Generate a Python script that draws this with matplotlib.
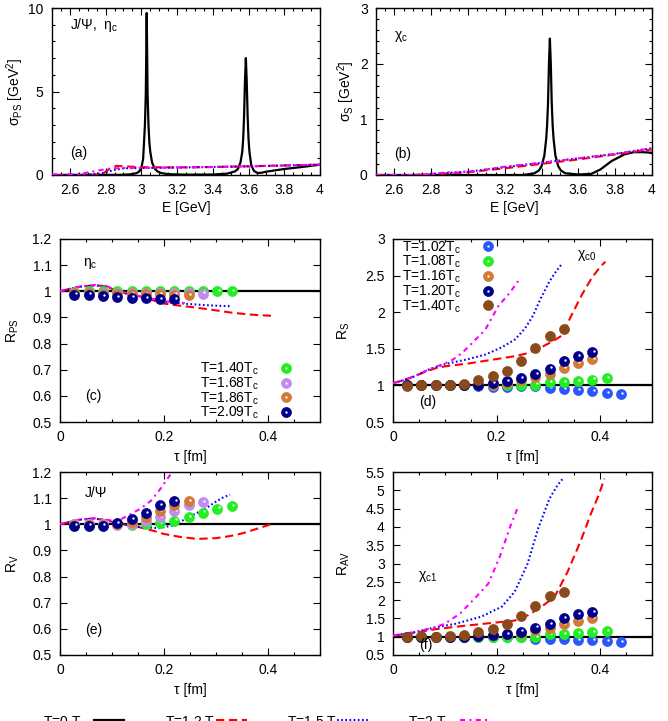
import matplotlib
matplotlib.use("Agg")
import matplotlib.pyplot as plt
from matplotlib.lines import Line2D
from matplotlib.ticker import FixedLocator, MultipleLocator, FuncFormatter
from matplotlib.transforms import offset_copy

plt.rcParams['font.family'] = ['Liberation Sans', 'DejaVu Sans']
plt.rcParams['font.size'] = 10
plt.rcParams['mathtext.fontset'] = 'custom'
plt.rcParams['mathtext.rm'] = 'Liberation Sans'
plt.rcParams['mathtext.it'] = 'Liberation Sans:italic'
plt.rcParams['mathtext.sf'] = 'Liberation Sans'
plt.rcParams['mathtext.bf'] = 'Liberation Sans:bold'

# ---------------- data ----------------
# panel (a): pseudoscalar spectral function
E_a_T0 = [2.50, 2.88, 2.94, 2.97, 2.985, 3.00, 3.010, 3.015, 3.020, 3.025, 3.030, 3.035, 3.040,
          3.045, 3.050, 3.060, 3.075, 3.090, 3.11, 3.15, 3.25, 3.40, 3.48, 3.525, 3.54, 3.555,
          3.565, 3.570, 3.575, 3.580, 3.585, 3.590, 3.595, 3.600, 3.605, 3.615, 3.630, 3.650,
          3.670, 3.700, 3.750, 3.800, 3.900, 4.000]
S_a_T0 = [0.00, 0.01, 0.04, 0.10, 0.18, 0.40, 0.97, 1.94, 2.98, 4.85, 9.70, 4.85, 2.98,
          1.94, 1.40, 0.75, 0.38, 0.22, 0.12, 0.05, 0.02, 0.03, 0.08, 0.22, 0.35, 0.75,
          1.40, 2.15, 3.50, 5.60, 7.00, 5.60, 3.50, 2.15, 1.40, 0.60, 0.25, 0.12,
          0.13, 0.20, 0.28, 0.36, 0.48, 0.62]
E_a_T12 = [2.50, 2.70, 2.78, 2.82, 2.86, 2.90, 3.00, 3.20, 3.40, 3.60, 3.80, 4.00]
S_a_T12 = [0.00, 0.00, 0.05, 0.35, 0.55, 0.52, 0.47, 0.45, 0.48, 0.52, 0.57, 0.62]
E_a_T15 = [2.50, 2.70, 2.78, 2.85, 2.90, 3.00, 3.20, 3.40, 3.60, 3.80, 4.00]
S_a_T15 = [0.00, 0.02, 0.10, 0.30, 0.40, 0.42, 0.45, 0.48, 0.52, 0.57, 0.62]
E_a_T2 = [2.50, 2.55, 2.60, 2.65, 2.70, 2.75, 2.80, 2.85, 2.90, 3.00, 3.20, 3.40, 3.60, 3.80, 4.00]
S_a_T2 = [0.05, 0.02, 0.06, 0.05, 0.15, 0.25, 0.35, 0.40, 0.42, 0.43, 0.45, 0.48, 0.52, 0.57, 0.62]

# panel (b): scalar spectral function
E_b_T0 = [2.50, 3.30, 3.36, 3.385, 3.40, 3.415, 3.425, 3.430, 3.435, 3.440, 3.445, 3.450, 3.455,
          3.460, 3.465, 3.475, 3.49, 3.505, 3.53, 3.60, 3.67, 3.72, 3.78, 3.85, 3.90, 3.95, 4.00]
S_b_T0 = [0.00, 0.00, 0.03, 0.08, 0.16, 0.35, 0.65, 0.90, 1.30, 2.00, 2.45, 2.00, 1.30,
          0.90, 0.65, 0.35, 0.16, 0.08, 0.03, 0.01, 0.02, 0.10, 0.25, 0.37, 0.41, 0.41, 0.40]
E_b_T12 = [2.50, 2.70, 2.80, 3.00, 3.20, 3.40, 3.60, 3.80, 4.00]
S_b_T12 = [0.00, 0.00, 0.01, 0.05, 0.12, 0.20, 0.28, 0.37, 0.46]
E_b_T15 = [2.50, 2.70, 2.80, 3.00, 3.20, 3.40, 3.60, 3.80, 4.00]
S_b_T15 = [0.00, 0.00, 0.02, 0.06, 0.14, 0.22, 0.30, 0.38, 0.48]
E_b_T2 = [2.50, 2.70, 2.80, 2.90, 2.95, 3.00, 3.05, 3.10, 3.20, 3.40, 3.60, 3.80, 4.00]
S_b_T2 = [0.00, 0.00, 0.02, 0.05, 0.04, 0.07, 0.06, 0.10, 0.15, 0.22, 0.30, 0.38, 0.48]

# lattice Euclidean times
TAU = [0.0275, 0.055, 0.0825, 0.110, 0.1375, 0.165, 0.1925, 0.220, 0.2475, 0.275,
       0.3025, 0.330, 0.3575, 0.385, 0.4125, 0.440]

# T=0 reference (ratio = 1)
tau_T0 = [0.0, 0.5]
R_T0 = [1.0, 1.0]

# panel (c): R_PS
tau_c_T12 = [0, 0.02, 0.04, 0.068, 0.09, 0.106, 0.13, 0.156, 0.18, 0.2, 0.23, 0.264, 0.3, 0.327, 0.36, 0.38, 0.41]
R_c_T12 = [1.0, 1.01, 1.018, 1.023, 1.018, 1.004, 0.99, 0.979, 0.965, 0.953, 0.945, 0.937, 0.927, 0.919, 0.912, 0.909, 0.906]
tau_c_T15 = [0, 0.02, 0.04, 0.068, 0.09, 0.106, 0.13, 0.156, 0.18, 0.2, 0.22, 0.25, 0.28, 0.31, 0.33]
R_c_T15 = [1.0, 1.01, 1.018, 1.023, 1.018, 1.005, 0.99, 0.98, 0.968, 0.96, 0.956, 0.951, 0.947, 0.944, 0.943]
tau_c_T2 = [0, 0.02, 0.04, 0.068, 0.09, 0.106, 0.13, 0.156, 0.18, 0.2, 0.22, 0.24]
R_c_T2 = [1.0, 1.01, 1.019, 1.024, 1.019, 1.006, 0.992, 0.98, 0.97, 0.963, 0.958, 0.955]
Rc_140 = [0.999, 1.0, 1.0, 1.0, 1.0, 1.0, 1.0, 1.0, 1.0, 1.0, 1.0, 1.0]
Rc_168 = [0.994, 0.994, 0.993, 0.993, 0.993, 0.992, 0.992, 0.992, 0.992, 0.991]
Rc_186 = [0.992, 0.992, 0.990, 0.990, 0.989, 0.989, 0.988, 0.987, 0.985]
Rc_209 = [0.987, 0.987, 0.982, 0.977, 0.976, 0.975, 0.971, 0.970]

# panel (d): R_S
tau_d_T12 = [0, 0.02, 0.04, 0.06, 0.08, 0.1, 0.146, 0.2, 0.236, 0.26, 0.286, 0.305, 0.326, 0.344, 0.364, 0.383, 0.40, 0.41]
R_d_T12 = [1.03, 1.07, 1.12, 1.18, 1.23, 1.26, 1.30, 1.36, 1.40, 1.44, 1.52, 1.59, 1.68, 1.95, 2.23, 2.46, 2.62, 2.69]
tau_d_T15 = [0, 0.02, 0.04, 0.07, 0.1, 0.146, 0.178, 0.21, 0.236, 0.255, 0.27, 0.286, 0.302, 0.315, 0.325]
R_d_T15 = [1.03, 1.07, 1.12, 1.22, 1.29, 1.36, 1.42, 1.52, 1.63, 1.78, 1.95, 2.2, 2.42, 2.56, 2.65]
tau_d_T2 = [0, 0.02, 0.04, 0.07, 0.1, 0.115, 0.133, 0.153, 0.178, 0.204, 0.226, 0.242]
R_d_T2 = [1.03, 1.07, 1.12, 1.22, 1.3, 1.35, 1.44, 1.58, 1.76, 2.09, 2.27, 2.43]
Rd_102 = [1.0, 1.0, 1.0, 1.0, 1.0, 0.99, 0.98, 0.98, 0.985, 0.99, 0.96, 0.945, 0.94, 0.92, 0.90, 0.885]
Rd_108 = [1.0, 1.0, 1.0, 1.0, 1.0, 1.0, 1.0, 1.0, 1.0, 1.01, 1.04, 1.05, 1.06, 1.08, 1.10]
Rd_116 = [1.0, 1.0, 1.0, 1.0, 1.0, 1.01, 1.01, 1.03, 1.07, 1.12, 1.15, 1.24, 1.30, 1.36]
Rd_120 = [1.0, 1.0, 1.0, 1.0, 1.0, 1.01, 1.03, 1.06, 1.10, 1.15, 1.23, 1.33, 1.40, 1.46]
Rd_140 = [0.995, 1.0, 1.01, 1.01, 1.02, 1.07, 1.125, 1.2, 1.33, 1.51, 1.68, 1.77]

# panel (e): R_V
tau_e_T12 = [0, 0.02, 0.04, 0.065, 0.09, 0.12, 0.15, 0.18, 0.2, 0.23, 0.264, 0.3, 0.327, 0.35, 0.371, 0.39, 0.405]
R_e_T12 = [1.0, 1.01, 1.018, 1.022, 1.015, 1.0, 0.99, 0.975, 0.963, 0.952, 0.944, 0.947, 0.955, 0.965, 0.978, 0.99, 1.0]
tau_e_T15 = [0, 0.02, 0.04, 0.065, 0.09, 0.12, 0.15, 0.19, 0.22, 0.25, 0.28, 0.3, 0.315, 0.327]
R_e_T15 = [1.0, 1.01, 1.018, 1.022, 1.015, 1.0, 0.991, 0.985, 0.997, 1.03, 1.06, 1.087, 1.104, 1.113]
tau_e_T2 = [0, 0.02, 0.04, 0.065, 0.09, 0.11, 0.137, 0.155, 0.175, 0.194, 0.205, 0.216]
R_e_T2 = [1.0, 1.01, 1.019, 1.023, 1.017, 1.012, 1.04, 1.06, 1.09, 1.138, 1.17, 1.2]
Re_140 = [1.0, 1.0, 1.0, 1.0, 0.997, 1.0, 1.006, 1.014, 1.027, 1.045, 1.06, 1.07]
Re_168 = [1.0, 1.0, 1.0, 0.996, 1.0, 1.013, 1.027, 1.049, 1.074, 1.085]
Re_186 = [0.997, 0.997, 0.998, 1.0, 1.008, 1.026, 1.049, 1.074, 1.09]
Re_209 = [0.995, 0.995, 0.995, 1.004, 1.02, 1.042, 1.074, 1.09]

# panel (f): R_AV
tau_f_T12 = [0, 0.04, 0.08, 0.12, 0.18, 0.235, 0.261, 0.285, 0.312, 0.337, 0.363, 0.382, 0.398, 0.408]
R_f_T12 = [1.03, 1.1, 1.2, 1.27, 1.36, 1.44, 1.59, 1.8, 2.09, 2.77, 3.64, 4.36, 4.9, 5.32]
tau_f_T15 = [0, 0.04, 0.08, 0.12, 0.171, 0.21, 0.235, 0.26, 0.28, 0.302, 0.318, 0.328]
R_f_T15 = [1.03, 1.12, 1.25, 1.35, 1.55, 1.82, 2.23, 3.0, 3.95, 4.77, 5.15, 5.32]
tau_f_T2 = [0, 0.04, 0.08, 0.101, 0.13, 0.158, 0.184, 0.206, 0.226, 0.242]
R_f_T2 = [1.03, 1.12, 1.25, 1.36, 1.64, 2.05, 2.45, 3.18, 4.0, 4.57]
Rf_102 = [1.0, 1.0, 1.0, 1.0, 1.0, 1.0, 1.0, 1.0, 1.0, 0.95, 0.95, 0.94, 0.91, 0.9, 0.88, 0.86]
Rf_108 = [1.0, 1.0, 1.0, 1.0, 1.0, 1.0, 1.0, 1.0, 1.0, 1.0, 1.07, 1.07, 1.09, 1.12, 1.15]
Rf_116 = [1.0, 1.0, 1.0, 1.0, 1.0, 1.02, 1.04, 1.07, 1.09, 1.18, 1.23, 1.34, 1.44, 1.5]
Rf_120 = [1.0, 1.0, 1.0, 1.0, 1.0, 1.03, 1.06, 1.08, 1.14, 1.25, 1.35, 1.5, 1.62, 1.68]
Rf_140 = [1.0, 1.03, 1.0, 1.03, 1.06, 1.12, 1.2, 1.35, 1.56, 1.84, 2.11, 2.23]

# tick labels
xt_E = [2.6, 2.8, 3.0, 3.2, 3.4, 3.6, 3.8, 4.0]
yt_a = [0, 5, 10]
yt_b = [0, 1, 2, 3]
xt_tau = [0, 0.2, 0.4]
yt_ce = [0.5, 0.6, 0.7, 0.8, 0.9, 1.0, 1.1, 1.2]
yt_d = [0.5, 1.0, 1.5, 2.0, 2.5, 3.0]
yt_f = [0.5, 1.0, 1.5, 2.0, 2.5, 3.0, 3.5, 4.0, 4.5, 5.0, 5.5]

line_labels = ['T=0 T$_{\\rm c}$', 'T=1.2 T$_{\\rm c}$', 'T=1.5 T$_{\\rm c}$', 'T=2 T$_{\\rm c}$']
lab_low = ['T=1.40T$_{\\rm c}$', 'T=1.68T$_{\\rm c}$', 'T=1.86T$_{\\rm c}$', 'T=2.09T$_{\\rm c}$']
lab_high = ['T=1.02T$_{\\rm c}$', 'T=1.08T$_{\\rm c}$', 'T=1.16T$_{\\rm c}$', 'T=1.20T$_{\\rm c}$', 'T=1.40T$_{\\rm c}$']

# ---------------- styles ----------------
W, H = 668, 721
fig = plt.figure(figsize=(W / 100, H / 100), dpi=100)

ST = {
    'T0': dict(color='black', lw=1.6, ls='-'),
    'T12': dict(color='#ff0000', lw=1.5, ls=(0, (4, 2.2))),
    'T15': dict(color='#0000ff', lw=1.5, ls=(0, (0.8, 1.2))),
    'T2': dict(color='#ff00ff', lw=1.5, ls=(0, (2.5, 2.0, 1.0, 2.0))),
}
C_LOW = ['#22ee22', '#c08cf0', '#d27a35', '#000088']
C_HIGH = ['#2a55ff', '#22ee22', '#d27a35', '#000088', '#8b4a1c']
HL_LOW = [True, True, True, True]
HL_HIGH = [True, True, True, True, False]


def rect(l, r, t, b):
    return [l / W, 1 - b / H, (r - l) / W, (b - t) / H]


def fmt(v, pos=None):
    return '%g' % v


def style_axes(ax, xlim, ylim, xt, yt, xminor=None, yminor=None):
    ax.set_xlim(*xlim)
    ax.set_ylim(*ylim)
    ax.xaxis.set_major_locator(FixedLocator(xt))
    ax.yaxis.set_major_locator(FixedLocator(yt))
    ax.xaxis.set_major_formatter(FuncFormatter(fmt))
    ax.yaxis.set_major_formatter(FuncFormatter(fmt))
    if xminor:
        ax.xaxis.set_minor_locator(MultipleLocator(xminor))
    if yminor:
        ax.yaxis.set_minor_locator(MultipleLocator(yminor))
    ax.tick_params(which='both', direction='in', top=True, right=True, labelsize=10, pad=6)
    ax.tick_params(which='major', length=5, width=0.8)
    ax.tick_params(which='minor', length=2.5, width=0.8)
    for s in ax.spines.values():
        s.set_linewidth(1.0)


def ylab_pos(ax, xpx, l, r):
    ax.yaxis.label.set_va('center')
    ax.yaxis.label.set_ha('center')
    ax.yaxis.set_label_coords((xpx - l) / (r - l), 0.5)


def xlab_pos(ax, ypx, t, b):
    ax.xaxis.label.set_va('center')
    ax.xaxis.set_label_coords(0.5, -(ypx - b) / (b - t))


def points(ax, x, y, c, hl, z):
    m, = ax.plot(x, y, 'o', ms=7.2, color=c, mec=c, mew=0.5, ls='none', zorder=z)
    h = None
    if hl:
        tr = offset_copy(ax.transData, fig=fig, x=1.2, y=1.2, units='dots')
        h, = ax.plot(x, y, 'o', ms=1.7, color='white', mew=0, ls='none', zorder=z + 0.5,
                     transform=tr)
    return (m, h) if h is not None else m


def ftext(x, y, s, **kw):
    fig.text(x / W, 1 - y / H, s, ha='left', va='center', fontsize=10, **kw)


# ---------------- panel (a) ----------------
L, R, T, B = 52, 320, 8, 175
ax = fig.add_axes(rect(L, R, T, B))
ax.plot(E_a_T0, S_a_T0, **ST['T0'], zorder=3)
ax.plot(E_a_T12, S_a_T12, **ST['T12'], zorder=4)
ax.plot(E_a_T15, S_a_T15, **ST['T15'], zorder=4)
ax.plot(E_a_T2, S_a_T2, **ST['T2'], zorder=4)
style_axes(ax, (2.5, 4.0), (0, 10), xt_E, yt_a, 0.05, 1)
ax.set_xlabel('E [GeV]')
ax.set_ylabel('σ$_{\\rm PS}$ [GeV$^2$]')
ylab_pos(ax, 15, L, R)
xlab_pos(ax, 208, T, B)
ftext(70, 25, 'J/Ψ,  η$_{\\rm c}$')
ftext(70, 153, '(a)')

# ---------------- panel (b) ----------------
L, R, T, B = 376, 652, 8, 175
ax = fig.add_axes(rect(L, R, T, B))
ax.plot(E_b_T0, S_b_T0, **ST['T0'], zorder=3)
ax.plot(E_b_T12, S_b_T12, **ST['T12'], zorder=4)
ax.plot(E_b_T15, S_b_T15, **ST['T15'], zorder=4)
ax.plot(E_b_T2, S_b_T2, **ST['T2'], zorder=4)
style_axes(ax, (2.5, 4.0), (0, 3), xt_E, yt_b, 0.05, 0.2)
ax.set_xlabel('E [GeV]')
ax.set_ylabel('σ$_{\\rm S}$ [GeV$^2$]')
ylab_pos(ax, 346, L, R)
xlab_pos(ax, 208, T, B)
ftext(394, 37, 'χ$_{\\rm c}$')
ftext(394, 154, '(b)')


def ratio_panel(L, R, T, B, lines, pts, colors, hls, ylim, yt, ylabel, ylx, xly):
    ax = fig.add_axes(rect(L, R, T, B))
    ax.plot(tau_T0, R_T0, **ST['T0'], zorder=2)
    for key, (x, y) in lines:
        ax.plot(x, y, **ST[key], zorder=3)
    handles = []
    for i, (y, c, hl) in enumerate(zip(pts, colors, hls)):
        handles.append(points(ax, TAU[:len(y)], y, c, hl, 5 + i))
    style_axes(ax, (0, 0.5), ylim, xt_tau, yt, 0.05, None)
    ax.set_xlabel('τ [fm]')
    ax.set_ylabel(ylabel)
    ylab_pos(ax, ylx, L, R)
    xlab_pos(ax, xly, T, B)
    return ax, handles


LEG = dict(markerfirst=False, frameon=False, borderpad=0, borderaxespad=0, handlelength=1.0,
           handletextpad=1.45, labelspacing=-0.12, fontsize=10, loc='center left')

# ---------------- panel (c) ----------------
L, R, T, B = 60, 320, 239, 422
ax, hs = ratio_panel(L, R, T, B,
                     [('T12', (tau_c_T12, R_c_T12)), ('T15', (tau_c_T15, R_c_T15)), ('T2', (tau_c_T2, R_c_T2))],
                     [Rc_140, Rc_168, Rc_186, Rc_209], C_LOW, HL_LOW,
                     (0.5, 1.2), yt_ce, 'R$_{\\rm PS}$', 13, 457)
ax.legend(hs, lab_low, bbox_to_anchor=((200 - L) / (R - L), 1 - (391 - T) / (B - T)), **LEG)
ftext(83, 263, 'η$_{\\rm c}$')
ftext(85, 396, '(c)')

# ---------------- panel (d) ----------------
L, R, T, B = 393, 652, 239, 422
ax, hs = ratio_panel(L, R, T, B,
                     [('T12', (tau_d_T12, R_d_T12)), ('T15', (tau_d_T15, R_d_T15)), ('T2', (tau_d_T2, R_d_T2))],
                     [Rd_102, Rd_108, Rd_116, Rd_120, Rd_140], C_HIGH, HL_HIGH,
                     (0.5, 3.0), yt_d, 'R$_{\\rm S}$', 344, 457)
ax.legend(hs, lab_high, bbox_to_anchor=((402.5 - L) / (R - L), 1 - (277 - T) / (B - T)), **LEG)
ftext(577, 255, 'χ$_{\\rm c0}$')
ftext(419, 402, '(d)')

# ---------------- panel (e) ----------------
L, R, T, B = 60, 320, 472, 655
ax, hs = ratio_panel(L, R, T, B,
                     [('T12', (tau_e_T12, R_e_T12)), ('T15', (tau_e_T15, R_e_T15)), ('T2', (tau_e_T2, R_e_T2))],
                     [Re_140, Re_168, Re_186, Re_209], C_LOW, HL_LOW,
                     (0.5, 1.2), yt_ce, 'R$_{\\rm V}$', 13, 690)
ftext(85, 493, 'J/Ψ')
ftext(85, 630, '(e)')

# ---------------- panel (f) ----------------
L, R, T, B = 393, 652, 472, 655
ax, hs = ratio_panel(L, R, T, B,
                     [('T12', (tau_f_T12, R_f_T12)), ('T15', (tau_f_T15, R_f_T15)), ('T2', (tau_f_T2, R_f_T2))],
                     [Rf_102, Rf_108, Rf_116, Rf_120, Rf_140], C_HIGH, HL_HIGH,
                     (0.5, 5.5), yt_f, 'R$_{\\rm AV}$', 344, 690)
ftext(418, 577, 'χ$_{\\rm c1}$')
ftext(419, 645, '(f)')

# ---------------- bottom key (cut off by figure edge) ----------------
key_text_x = [43, 165, 287, 408]
key_line_x = [(94, 124), (216, 247), (337, 368), (460, 490)]
for lab, tx, (x0, x1), key in zip(line_labels, key_text_x, key_line_x, ['T0', 'T12', 'T15', 'T2']):
    fig.text(tx / W, 1 - 727 / H, lab, ha='left', va='baseline', fontsize=10)
    fig.add_artist(Line2D([x0 / W, x1 / W], [1 - 720 / H, 1 - 720 / H], transform=fig.transFigure, **ST[key]))

fig.savefig('out.png', dpi=100)
